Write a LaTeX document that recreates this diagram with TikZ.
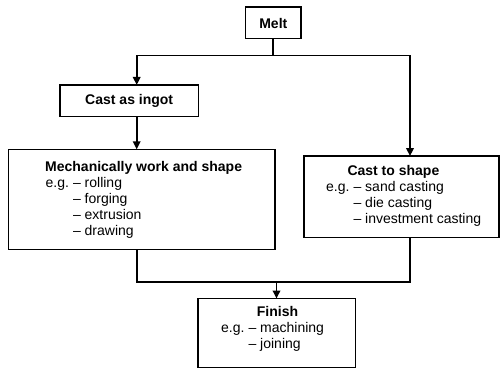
\documentclass[tikz,border=0pt]{standalone}
\usepackage{fontspec}
\setmainfont{Liberation Sans}
\usetikzlibrary{arrows.meta}
\begin{document}
\begin{tikzpicture}[x=1pt,y=-1pt,
  box/.style={draw, line width=1.5pt, inner sep=0pt, outer sep=0pt},
  link/.style={line width=1.8pt},
  arrow/.style={link, -{Triangle[width=7.5pt,length=8pt]}},
  heading/.style={font=\fontsize{14}{16}\selectfont\bfseries, inner sep=0pt},
  items/.style={font=\fontsize{14}{16}\selectfont, inner sep=0pt, anchor=base west},
]
\useasboundingbox (0,0) rectangle (500,369);

% process boxes
\node[box, heading, minimum width=55.5pt, minimum height=31.5pt] (melt) at (273.3,23) {Melt};
\node[box, heading, minimum width=138.3pt, minimum height=31.7pt] (ingot) at (129.2,100.8) {Cast as ingot};
\node[box, minimum width=266.7pt, minimum height=100pt] (mech) at (141.7,199.3) {};
\node[box, minimum width=195pt, minimum height=81.3pt] (cast) at (401.7,196.7) {};
\node[box, minimum width=157.5pt, minimum height=69pt] (finish) at (276.5,333) {};

% box contents
\node[heading, anchor=base west] (mechtitle) at (45,171) {Mechanically work and shape};
\node[items] (mechlist) at (45.5,187) {\begin{tabular}[t]{@{}l@{\hspace{4pt}}l@{}}
e.g. & – rolling\\ & – forging\\ & – extrusion\\ & – drawing\end{tabular}};
\node[heading, anchor=base west] (casttitle) at (347.3,175.5) {Cast to shape};
\node[items] (castlist) at (326,191.5) {\begin{tabular}[t]{@{}l@{\hspace{4pt}}l@{}}
e.g. & – sand casting\\ & – die casting\\ & – investment casting\end{tabular}};
\node[heading, anchor=base] (finishtitle) at (277.5,316) {Finish};
\node[items] (finishlist) at (221,332) {\begin{tabular}[t]{@{}l@{\hspace{4pt}}l@{}}
e.g. & – machining\\ & – joining\end{tabular}};

% routing points
\coordinate (lx) at (136.7,0);
\coordinate (rx) at (410,0);
\coordinate (split) at (273.3,55.5);
\coordinate (merge) at (276.5,281.7);

% connectors
\draw[link] (melt.south) -- (split);
\draw[arrow] (split) -| (lx |- ingot.north);
\draw[arrow] (split) -| (rx |- cast.north);
\draw[arrow] (lx |- ingot.south) -- (lx |- mech.north);
\draw[link] (lx |- mech.south) |- (merge) -| (rx |- cast.south);
\draw[arrow] (merge) -- (finish.north);
\end{tikzpicture}
\end{document}
